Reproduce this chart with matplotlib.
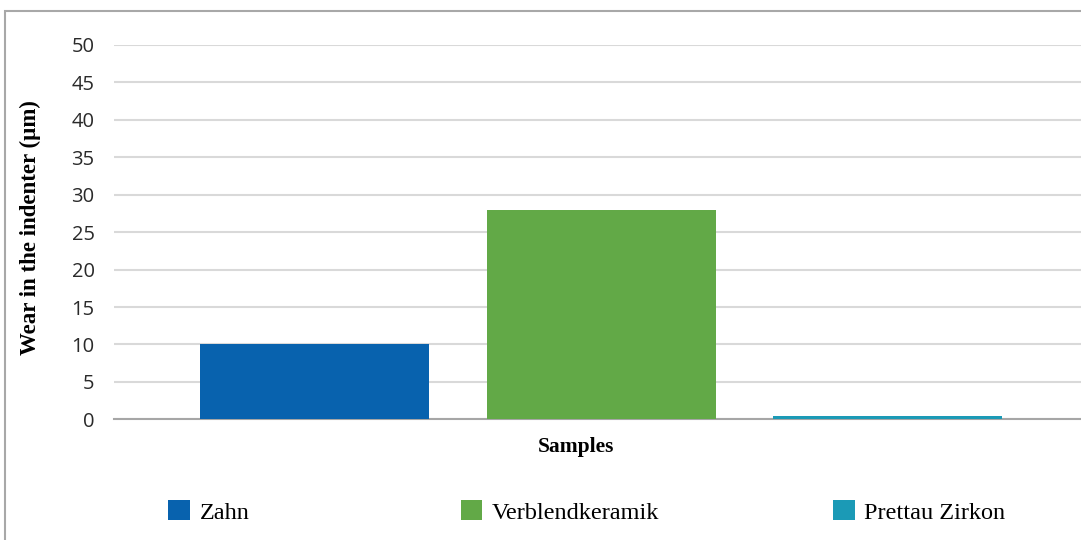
import matplotlib.pyplot as plt
from matplotlib.patches import Rectangle

samples = ["Zahn", "Verblendkeramik", "Prettau Zirkon"]
wear = [10, 28, 0.5]
colors = ["#0862ae", "#62a947", "#1b9ab6"]
yticks = [0, 5, 10, 15, 20, 25, 30, 35, 40, 45, 50]

fig = plt.figure(figsize=(10.81, 5.40), dpi=100)
ax = fig.add_axes([114 / 1081, 1 - 419.3 / 540, 1 - 114 / 1081, (419.3 - 45) / 540])

x = list(range(len(samples)))
bars = ax.bar(x, wear, width=0.8, color=colors, zorder=3)

ax.set_xlim(-0.702, 2.676)
ax.set_ylim(0, 50)
ax.set_yticks(yticks)
ax.set_xticks([])
ax.yaxis.grid(True, color="#d9d9d9", linewidth=1.5, zorder=0)
ax.tick_params(axis="y", length=0, pad=14, labelsize=14.5, labelcolor="#2a2a2a")
for lab in ax.get_yticklabels():
    lab.set_family("Open Sans")
for s in ["top", "right", "left"]:
    ax.spines[s].set_visible(False)
ax.spines["bottom"].set_color("#a6a6a6")
ax.spines["bottom"].set_linewidth(1.5)

fig.text(30 / 1081, 1 - 228 / 540, "Wear in the indenter (\u00b5m)", rotation=90,
         ha="center", va="center", family="Liberation Serif", weight="bold", fontsize=16.5)
fig.text(576 / 1081, 1 - 447 / 540, "Samples", ha="center", va="center",
         family="Liberation Serif", weight="bold", fontsize=15.5)

# legend entries spread out like the excel layout
centers = [209, 560, 919]
for b, name, cx in zip(bars, samples, centers):
    fig.legend([b], [name], loc="center", bbox_to_anchor=(cx / 1081, 1 - 512 / 540),
               frameon=False, handlelength=0.9, handleheight=0.85, handletextpad=0.4,
               prop={"family": "Liberation Serif", "size": 17.5})

# outer frame of the original figure
fig.patches.append(Rectangle((5 / 1081, -0.1), 1.2, 1 - 11 / 540 + 0.1,
                             transform=fig.transFigure, fill=False,
                             edgecolor="#a8a8a8", linewidth=1.5))

fig.savefig("out.png", dpi=100)
